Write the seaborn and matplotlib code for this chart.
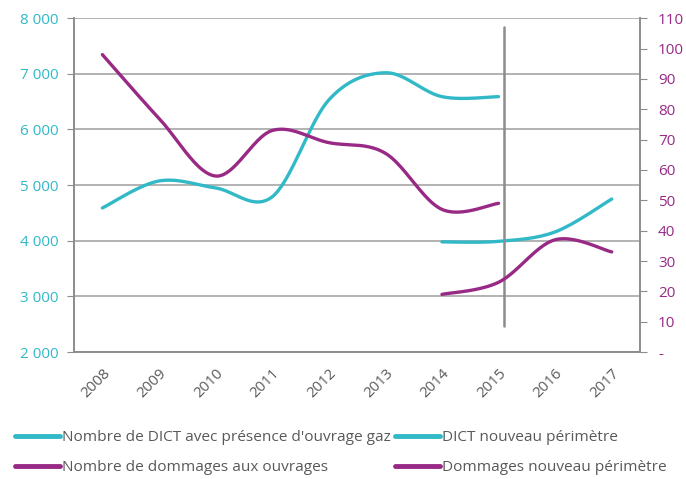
import numpy as np
import pandas as pd
import seaborn as sns
import matplotlib.pyplot as plt
from matplotlib.ticker import FuncFormatter, FixedLocator
from matplotlib.transforms import ScaledTranslation

annees = ['2008', '2009', '2010', '2011', '2012', '2013', '2014', '2015', '2016', '2017']

# DICT (left axis)
dict_gaz = [4590, 5075, 4950, 4790, 6530, 7020, 6590, 6590, None, None]
dict_nouveau = [None, None, None, None, None, None, 3980, 3990, 4160, 4750]

# dommages (right axis)
dommages = [98, 77, 58, 73, 69, 65.5, 47, 49, None, None]
dommages_nouveau = [None, None, None, None, None, None, 19, 23, 37, 33]

noms = ["Nombre de DICT avec présence d'ouvrage gaz", "DICT nouveau périmètre",
        "Nombre de dommages aux ouvrages", "Dommages nouveau périmètre"]

separation = 7.1  # position of the vertical marker, between 2015 and 2016

cyan = '#31B9C7'
violet = '#982A86'
gris = '#A6A6A6'


def lisse(valeurs, n=40):
    # Excel-like smoothed line (Catmull-Rom bezier) through the known points
    pts = [(i, v) for i, v in enumerate(valeurs) if v is not None]
    x = np.array([p[0] for p in pts], dtype=float)
    y = np.array([p[1] for p in pts], dtype=float)
    P = np.column_stack([x, y])
    P = np.vstack([P[0], P, P[-1]])
    out = []
    t = np.linspace(0, 1, n)[:, None]
    for i in range(1, len(P) - 2):
        p0, p1, p2, p3 = P[i - 1], P[i], P[i + 1], P[i + 2]
        b1 = p1 + (p2 - p0) / 6
        b2 = p2 - (p3 - p1) / 6
        seg = ((1 - t) ** 3) * p1 + 3 * ((1 - t) ** 2) * t * b1 + 3 * (1 - t) * t ** 2 * b2 + t ** 3 * p2
        out.append(seg if i == 1 else seg[1:])
    out = np.vstack(out)
    return pd.DataFrame({'x': out[:, 0], 'y': out[:, 1]})


sns.set_style('white')
plt.rcParams['font.family'] = ['Open Sans', 'DejaVu Sans']

fig = plt.figure(figsize=(6.86, 4.79), dpi=100)
ax = fig.add_axes([0.108, 0.265, 0.825, 0.697])
ax2 = ax.twinx()

sns.lineplot(data=lisse(dict_gaz), x='x', y='y', ax=ax, color=cyan, lw=2.4, sort=False, label=noms[0], legend=False)
sns.lineplot(data=lisse(dict_nouveau), x='x', y='y', ax=ax, color=cyan, lw=2.4, sort=False, label=noms[1], legend=False)
sns.lineplot(data=lisse(dommages), x='x', y='y', ax=ax2, color=violet, lw=2.4, sort=False, label=noms[2], legend=False)
sns.lineplot(data=lisse(dommages_nouveau), x='x', y='y', ax=ax2, color=violet, lw=2.4, sort=False, label=noms[3], legend=False)

ax.axvline(separation, ymin=0.078, ymax=0.974, color='#8C8C8C', lw=1.8, zorder=5)

ax.set_xlim(-0.5, 9.5)
ax.set_ylim(2000, 8000)
ax2.set_ylim(0, 110)

ax.set_xticks(range(len(annees)))
ax.set_xticklabels(annees, rotation=45, ha='right', rotation_mode='anchor', color='#595959', fontsize=10.8)
decale = ScaledTranslation(0.16, 0, fig.dpi_scale_trans)
for lab in ax.get_xticklabels():
    lab.set_transform(lab.get_transform() + decale)
ax.xaxis.set_minor_locator(FixedLocator(np.arange(-0.5, 10, 1)))
ax.tick_params(axis='x', which='major', length=0, pad=10)
ax.tick_params(axis='x', which='minor', length=5, color='#8C8C8C', direction='out')

ax.set_yticks(range(2000, 8001, 1000))
ax.yaxis.set_major_formatter(FuncFormatter(lambda v, p: f'{int(v):,}'.replace(',', ' ')))
ax.tick_params(axis='y', length=5, color='#8C8C8C', direction='out', labelcolor=cyan, labelsize=11, pad=6)
ax.grid(axis='y', color=gris, lw=1.2)
ax.set_axisbelow(True)

ax2.set_yticks(range(0, 111, 10))
ax2.yaxis.set_major_formatter(FuncFormatter(lambda v, p: '-' if v == 0 else f'{int(v)}'))
ax2.tick_params(axis='y', length=5, color='#8C8C8C', direction='out', labelcolor=violet, labelsize=11, pad=8)

for a in (ax, ax2):
    a.set_xlabel('')
    a.set_ylabel('')
    for s in ['left', 'right', 'bottom']:
        a.spines[s].set_color('#8C8C8C')
        a.spines[s].set_linewidth(1.2)
    a.spines['top'].set_visible(False)

h1, lab1 = ax.get_legend_handles_labels()
h2, lab2 = ax2.get_legend_handles_labels()
handles = [h1[0], h2[0], h1[1], h2[1]]
labels = [lab1[0], lab2[0], lab1[1], lab2[1]]
fig.legend(handles, labels, ncol=2, loc='center left', bbox_to_anchor=(0.022, 0.055), frameon=False,
           fontsize=11.1, handlelength=2.9, handletextpad=0.15, columnspacing=0.25, labelspacing=0.95,
           labelcolor='#595959', borderaxespad=0, borderpad=0)
for line in fig.legends[0].get_lines():
    line.set_linewidth(3.5)
    line.set_solid_capstyle('round')

fig.savefig('out.png', dpi=100)
